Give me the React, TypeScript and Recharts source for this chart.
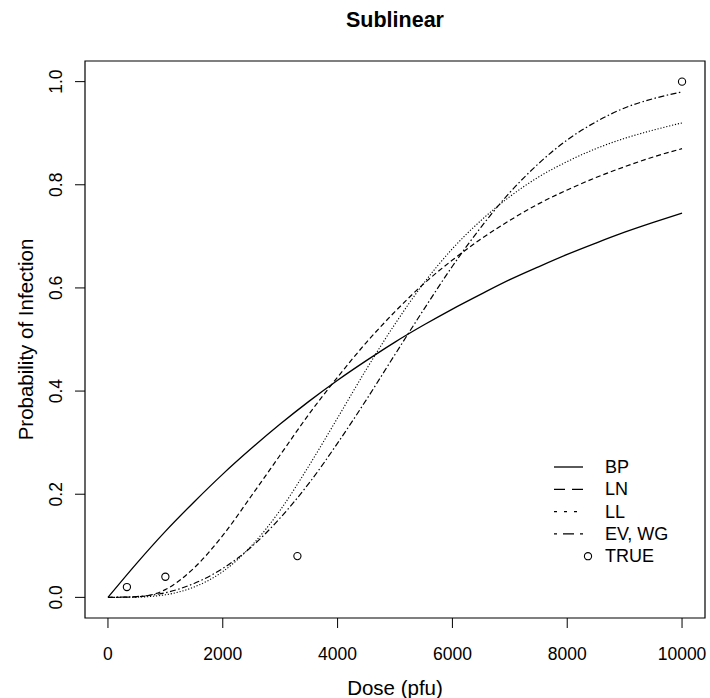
import React from 'react';
import { ComposedChart, Line, Scatter, XAxis, YAxis, ReferenceArea } from 'recharts';

const doses = [0, 500, 1000, 1500, 2000, 2500, 3000, 3500, 4000, 4500, 5000, 5500, 6000, 6500, 7000, 7500, 8000, 8500, 9000, 9500, 10000];
const bpValues = [0, 0.066, 0.128, 0.185, 0.239, 0.289, 0.336, 0.38, 0.421, 0.459, 0.495, 0.528, 0.559, 0.588, 0.616, 0.641, 0.665, 0.687, 0.708, 0.727, 0.745];
const lnValues = [0, 0.001, 0.015, 0.057, 0.12, 0.197, 0.276, 0.355, 0.427, 0.494, 0.554, 0.608, 0.654, 0.695, 0.731, 0.763, 0.79, 0.814, 0.835, 0.854, 0.87];
const llValues = [0, 0.0005, 0.005, 0.02, 0.05, 0.1, 0.169, 0.255, 0.348, 0.442, 0.53, 0.609, 0.676, 0.731, 0.777, 0.815, 0.845, 0.87, 0.89, 0.906, 0.92];
const evValues = [0, 0.0015, 0.009, 0.027, 0.056, 0.098, 0.154, 0.221, 0.299, 0.383, 0.471, 0.558, 0.642, 0.718, 0.785, 0.841, 0.887, 0.922, 0.949, 0.967, 0.98];
const trueDoses = [330, 1000, 3300, 10000];
const trueValues = [0.02, 0.04, 0.08, 1.0];
const xTicks = [0, 2000, 4000, 6000, 8000, 10000];
const yTicks = [0, 0.2, 0.4, 0.6, 0.8, 1.0];
const yTickLabels = ['0.0', '0.2', '0.4', '0.6', '0.8', '1.0'];
const legendLabels = ['BP', 'LN', 'LL', 'EV, WG', 'TRUE'];
const titleText = 'Sublinear';
const xTitle = 'Dose (pfu)';
const yTitle = 'Probability of Infection';

const curveData = doses.map((d, i) => ({ dose: d, bp: bpValues[i], ln: lnValues[i], ll: llValues[i], ev: evValues[i] }));
const trueData = trueDoses.map((d, i) => ({ dose: d, p: trueValues[i] }));

const FONT = '"Liberation Sans", Arial, Helvetica, sans-serif';

const XTick = (props: any) => {
  const { x, payload } = props;
  return (
    <text x={x} y={654} textAnchor="middle" dominantBaseline="central" fontFamily={FONT} fontSize={17.5} fill="#000">
      {payload.value}
    </text>
  );
};

const YTick = (props: any) => {
  const { y, payload } = props;
  const idx = yTicks.indexOf(payload.value);
  const label = idx >= 0 ? yTickLabels[idx] : String(payload.value);
  return (
    <text x={56} y={y} transform={`rotate(-90, 56, ${y})`} textAnchor="middle" dominantBaseline="central" fontFamily={FONT} fontSize={17.5} fill="#000">
      {label}
    </text>
  );
};

const legendDash = ['', '11 7', '3 7', '3 6 11 6'];

export default function App() {
  return (
    <div style={{ position: 'absolute', left: 0, top: 0, width: 710, height: 698, background: '#fff' }}>
      <ComposedChart width={710} height={698} data={curveData} margin={{ top: 61, right: 5, bottom: 0, left: 0 }}>
        <XAxis
          type="number"
          dataKey="dose"
          domain={[-400, 10400]}
          ticks={xTicks}
          interval={0}
          allowDataOverflow
          height={80}
          axisLine={false}
          tickLine={{ stroke: '#000', strokeWidth: 1 }}
          tickSize={10}
          tick={<XTick />}
        />
        <YAxis
          type="number"
          domain={[-0.04, 1.04]}
          ticks={yTicks}
          interval={0}
          allowDataOverflow
          width={85}
          axisLine={false}
          tickLine={{ stroke: '#000', strokeWidth: 1 }}
          tickSize={10}
          tick={<YTick />}
        />
        <ReferenceArea x1={-400} x2={10400} y1={-0.04} y2={1.04} fill="none" fillOpacity={0} stroke="#000" strokeWidth={1.2} ifOverflow="visible" />
        <Line type="monotone" dataKey="bp" stroke="#000" strokeWidth={1.3} dot={false} isAnimationActive={false} />
        <Line type="monotone" dataKey="ln" stroke="#000" strokeWidth={1.2} strokeDasharray="5 3" dot={false} isAnimationActive={false} />
        <Line type="monotone" dataKey="ll" stroke="#000" strokeWidth={1.1} strokeDasharray="1.2 1.8" dot={false} isAnimationActive={false} />
        <Line type="monotone" dataKey="ev" stroke="#000" strokeWidth={1.2} strokeDasharray="6 2.5 1.5 2.5" dot={false} isAnimationActive={false} />
        <Scatter
          data={trueData}
          dataKey="p"
          isAnimationActive={false}
          shape={(p: any) => <circle cx={p.cx} cy={p.cy} r={3.6} fill="none" stroke="#000" strokeWidth={1.1} />}
        />
      </ComposedChart>
      <svg width={710} height={698} style={{ position: 'absolute', left: 0, top: 0, pointerEvents: 'none' }}>
        <text x={395} y={20} textAnchor="middle" dominantBaseline="central" fontFamily={FONT} fontWeight="bold" fontSize={21.5} fill="#000">
          {titleText}
        </text>
        <text x={395} y={687} textAnchor="middle" dominantBaseline="central" fontFamily={FONT} fontSize={20.5} fill="#000">
          {xTitle}
        </text>
        <text x={25} y={339.5} transform="rotate(-90, 25, 339.5)" textAnchor="middle" dominantBaseline="central" fontFamily={FONT} fontSize={20.5} fill="#000">
          {yTitle}
        </text>
        {legendLabels.map((lab, i) => {
          const y = 467 + i * 22.3;
          return (
            <g key={lab}>
              {i < 4 ? (
                <line x1={554} x2={583} y1={y} y2={y} stroke="#000" strokeWidth={1.3} strokeDasharray={legendDash[i] || undefined} />
              ) : (
                <circle cx={588} cy={y} r={3.6} fill="none" stroke="#000" strokeWidth={1.1} />
              )}
              <text x={605} y={y} dominantBaseline="central" fontFamily={FONT} fontSize={18} fill="#000">
                {lab}
              </text>
            </g>
          );
        })}
      </svg>
    </div>
  );
}
